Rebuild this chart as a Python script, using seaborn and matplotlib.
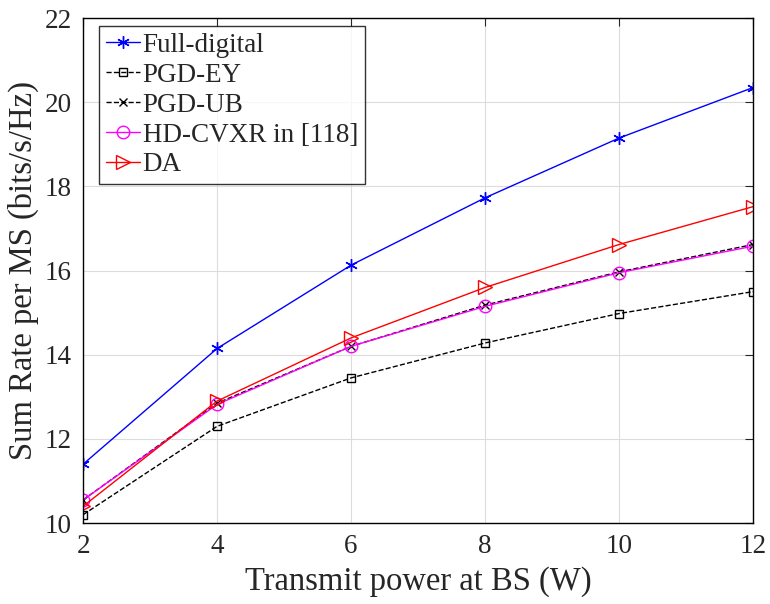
import matplotlib
matplotlib.use('Agg')
import matplotlib.pyplot as plt
import seaborn as sns
import numpy as np

# data
power = [2, 4, 6, 8, 10, 12]
full_digital = [11.4, 14.15, 16.13, 17.73, 19.15, 20.35]
pgd_ey = [10.2, 12.3, 13.45, 14.28, 14.98, 15.5]
pgd_ub = [10.55, 12.85, 14.2, 15.18, 15.97, 16.62]
hd_cvxr = [10.55, 12.82, 14.2, 15.15, 15.95, 16.58]
da = [10.4, 12.9, 14.4, 15.6, 16.62, 17.52]

sns.set_style('white')
plt.rcParams['font.family'] = ['Liberation Serif', 'DejaVu Serif']

fig = plt.figure(figsize=(7.7, 6.04), dpi=100)
ax = fig.add_axes([0.108, 0.134, 0.870, 0.836])

# name, values, colour, marker, linestyle, marker size
series = [
    ('Full-digital', full_digital, 'blue', (6, 2, 0), '-', 9),
    ('PGD-EY', pgd_ey, 'black', 's', '--', 6),
    ('PGD-UB', pgd_ub, 'black', 'x', '--', 6),
    ('HD-CVXR in [118]', hd_cvxr, 'magenta', 'o', '-', 9),
    ('DA', da, 'red', '>', '-', 10),
]

for name, vals, col, mk, ls, ms in series:
    sns.lineplot(x=power, y=vals, ax=ax, color=col, marker=mk, linestyle=ls,
                 markersize=ms, markerfacecolor='none', markeredgecolor=col,
                 markeredgewidth=1.0, linewidth=1.0, label=name)

ax.set_xlim(2, 12)
ax.set_ylim(10, 22)
ax.set_xticks(np.arange(2, 13, 2))
ax.set_yticks(np.arange(10, 23, 2))
ax.grid(True, color='#dcdcdc', linewidth=0.8)
ax.tick_params(direction='in', top=True, right=True, labelsize=19.5,
               length=6, pad=8)
for s in ax.spines.values():
    s.set_color('black')
    s.set_linewidth(1.0)

ax.set_xlabel('Transmit power at BS (W)', fontsize=23.5, labelpad=5)
ax.set_ylabel('Sum Rate per MS (bits/s/Hz)', fontsize=23.5, labelpad=4)

leg = ax.legend(loc='upper left', bbox_to_anchor=(0.024, 0.984),
                fontsize=19.5, frameon=True, fancybox=False,
                edgecolor='black', handlelength=1.25, handletextpad=0.1,
                borderpad=0.25, labelspacing=0.18, borderaxespad=0.0)
leg.get_frame().set_linewidth(1.0)

fig.savefig('out.png', dpi=100)
